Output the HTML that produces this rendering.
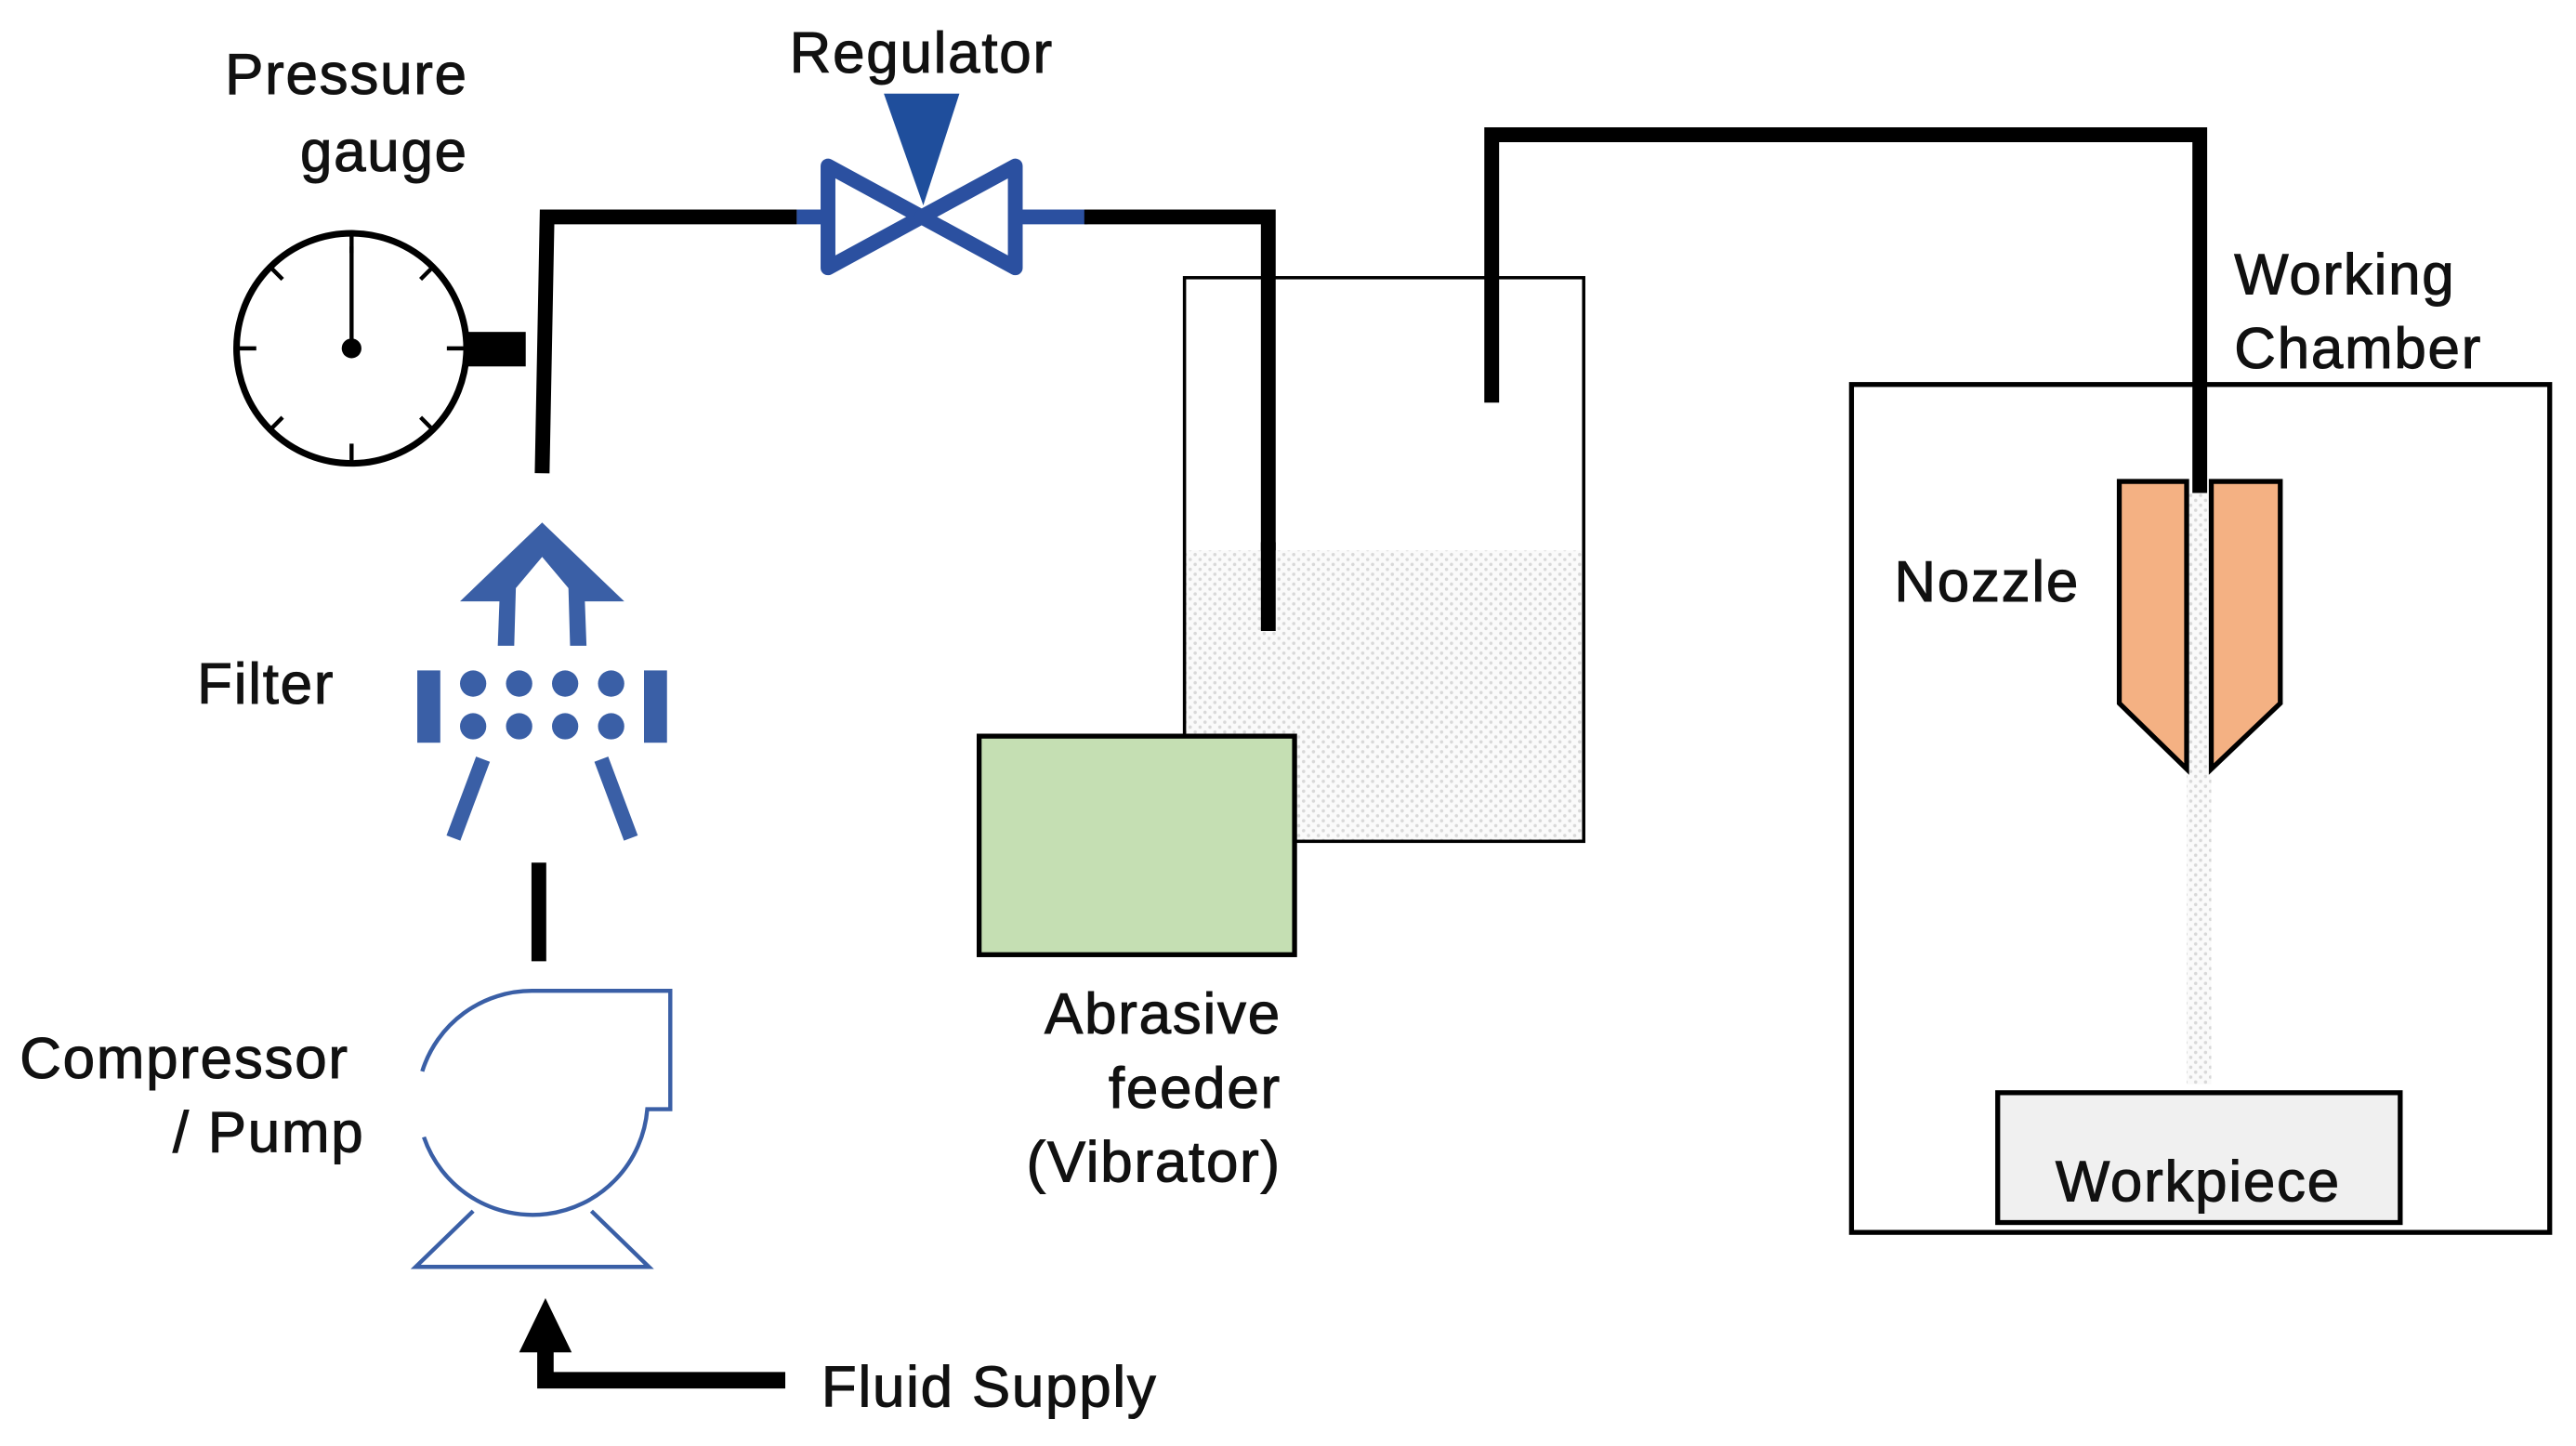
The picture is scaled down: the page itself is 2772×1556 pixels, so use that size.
<!DOCTYPE html>
<html><head><meta charset="utf-8"><style>
html,body{margin:0;padding:0;background:#fff}
svg{display:block}
text{font-family:"Liberation Sans",sans-serif;font-size:35px;fill:#111;stroke:#111;stroke-width:0.6;letter-spacing:1px}
</style></head><body>
<svg width="2772" height="1556" viewBox="0 0 1568 880" preserveAspectRatio="none" xmlns="http://www.w3.org/2000/svg">
<defs>
<pattern id="dots" width="6" height="6" patternUnits="userSpaceOnUse">
<rect width="6" height="6" fill="#fafafa"/><circle cx="1.5" cy="1.5" r="1" fill="#d8d8d8"/><circle cx="4.5" cy="4.5" r="1" fill="#d8d8d8"/>
</pattern>
</defs>
<rect width="1568" height="880" fill="#fff"/>
<!-- labels -->
<text x="285" y="57" text-anchor="end">Pressure</text>
<text x="285" y="104" text-anchor="end">gauge</text>
<text x="561" y="44" text-anchor="middle">Regulator</text>
<text x="120" y="428">Filter</text>
<text x="12" y="656">Compressor</text>
<text x="222" y="701" text-anchor="end">/ Pump</text>
<text x="780" y="629" text-anchor="end">Abrasive</text>
<text x="780" y="674" text-anchor="end">feeder</text>
<text x="780" y="719" text-anchor="end">(Vibrator)</text>
<text x="500" y="856">Fluid Supply</text>
<text x="1360" y="179">Working</text>
<text x="1360" y="224">Chamber</text>
<text x="1153" y="366">Nozzle</text>

<!-- gauge -->
<circle cx="214" cy="212" r="70" fill="none" stroke="#000" stroke-width="4"/>
<g stroke="#000" stroke-width="2.5">
<line x1="214" y1="142" x2="214" y2="154"/><line x1="214" y1="270" x2="214" y2="282"/>
<line x1="144" y1="212" x2="156" y2="212"/><line x1="272" y1="212" x2="284" y2="212"/>
<line x1="164" y1="162" x2="172" y2="170"/><line x1="264" y1="162" x2="256" y2="170"/>
<line x1="164" y1="262" x2="172" y2="254"/><line x1="264" y1="262" x2="256" y2="254"/>
</g>
<line x1="214" y1="150" x2="214" y2="212" stroke="#000" stroke-width="2.5"/>
<circle cx="214" cy="212" r="6" fill="#000"/>
<rect x="284" y="202" width="36" height="21" fill="#000"/>

<!-- pipe to regulator -->
<polyline points="330,288 333,132 485,132" fill="none" stroke="#000" stroke-width="9"/>
<line x1="485" y1="132" x2="502" y2="132" stroke="#2b50a0" stroke-width="9"/>
<polygon points="504,101 504,163 561,132" fill="none" stroke="#2b50a0" stroke-width="9" stroke-linejoin="round"/>
<polygon points="618,101 618,163 561,132" fill="none" stroke="#2b50a0" stroke-width="9" stroke-linejoin="round"/>
<line x1="620" y1="132" x2="662" y2="132" stroke="#2b50a0" stroke-width="9"/>
<polyline points="660,132 772,132 772,384" fill="none" stroke="#000" stroke-width="9"/>
<polygon points="538,57 584,57 562,125" fill="#1f4e9c"/>

<!-- tank -->
<rect x="721" y="335" width="243" height="177" fill="url(#dots)"/>
<line x1="772" y1="330" x2="772" y2="384" stroke="#000" stroke-width="9"/>
<rect x="721" y="169" width="243" height="343" fill="none" stroke="#000" stroke-width="2"/>
<rect x="596" y="448" width="192" height="133" fill="#c5dfb3" stroke="#000" stroke-width="3"/>
<polyline points="908,245 908,82 1339,82 1339,300" fill="none" stroke="#000" stroke-width="9"/>

<!-- chamber -->
<rect x="1127" y="234" width="425" height="516" fill="none" stroke="#000" stroke-width="3"/>
<rect x="1331" y="300" width="15" height="360" fill="url(#dots)"/>
<polygon points="1290,293 1331,293 1331,468 1290,428" fill="#f4b183" stroke="#000" stroke-width="3"/>
<polygon points="1346,293 1388,293 1388,428 1346,468" fill="#f4b183" stroke="#000" stroke-width="3"/>
<rect x="1216" y="665" width="245" height="79" fill="#f0f0f0" stroke="#000" stroke-width="3"/>
<text x="1338" y="731" text-anchor="middle">Workpiece</text>

<!-- filter -->
<path d="M330,318 L380,366 L356,366 L357,393 L347,393 L346,358 L330,339 L314,358 L313,393 L303,393 L304,366 L280,366 Z" fill="#3a5fa6"/>
<path d="M330,339 L346,358 L314,358 Z" fill="#fff"/>
<g fill="#3a5fa6">
<rect x="254" y="408" width="14" height="44"/><rect x="392" y="408" width="14" height="44"/>
<circle cx="288" cy="416" r="8"/><circle cx="316" cy="416" r="8"/><circle cx="344" cy="416" r="8"/><circle cx="372" cy="416" r="8"/>
<circle cx="288" cy="442" r="8"/><circle cx="316" cy="442" r="8"/><circle cx="344" cy="442" r="8"/><circle cx="372" cy="442" r="8"/>
</g>
<line x1="294" y1="462" x2="276" y2="510" stroke="#3a5fa6" stroke-width="9"/>
<line x1="366" y1="462" x2="384" y2="510" stroke="#3a5fa6" stroke-width="9"/>
<line x1="328" y1="525" x2="328" y2="585" stroke="#000" stroke-width="9"/>

<!-- pump -->
<path d="M257,652 A70,70 0 0 1 324,603 L408,603 L408,675 L394,675 A70,70 0 0 1 258,692" fill="none" stroke="#3a5fa6" stroke-width="2.5"/>
<polyline points="288,737 253,771 395,771 360,737" fill="none" stroke="#3a5fa6" stroke-width="2.5"/>

<!-- fluid supply arrow -->
<polyline points="478,840 332,840 332,818" fill="none" stroke="#000" stroke-width="10"/>
<polygon points="316,823 348,823 332,790" fill="#000"/>
</svg>
</body></html>
